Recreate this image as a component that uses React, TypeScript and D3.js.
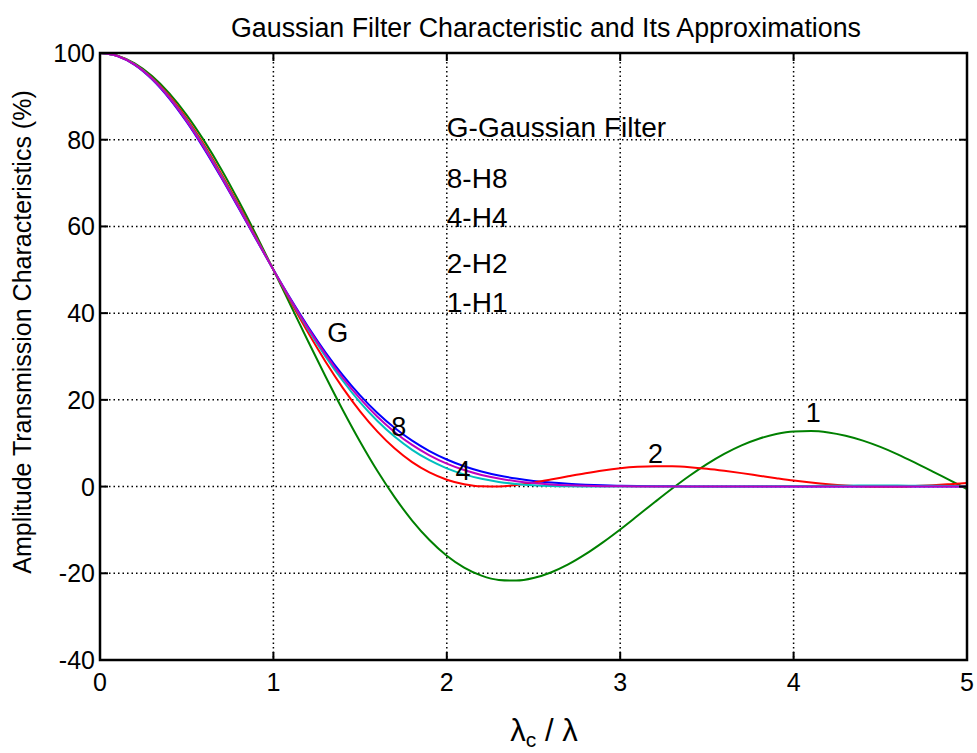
import React from "react";
import * as d3 from "d3";

const lambdaRatio = [
  0, 0.1, 0.2, 0.3, 0.4, 0.5, 0.6, 0.7, 0.8, 0.9, 1.0, 1.1, 1.2, 1.3, 1.4, 1.5, 1.6, 1.7, 1.8, 1.9,
  2.0, 2.1, 2.2, 2.3, 2.4, 2.5, 2.6, 2.7, 2.8, 2.9, 3.0, 3.1, 3.2, 3.3, 3.4, 3.5, 3.6, 3.7, 3.8, 3.9,
  4.0, 4.1, 4.2, 4.3, 4.4, 4.5, 4.6, 4.7, 4.8, 4.9, 5.0,
];

const gaussian = [
  100, 99.31, 97.27, 93.95, 89.5, 84.09, 77.92, 71.2, 64.17, 57.04, 50, 43.23, 36.86, 30.99, 25.7, 21.02,
  16.96, 13.49, 10.58, 8.19, 6.25, 4.7, 3.49, 2.56, 1.85, 1.31, 0.92, 0.64, 0.44, 0.29, 0.2, 0.13, 0.08,
  0.05, 0.03, 0.02, 0.01, 0, 0, 0, 0, 0, 0, 0, 0, 0, 0, 0, 0, 0, 0,
];

const h1 = [
  100, 99.4, 97.62, 94.7, 90.69, 85.69, 79.79, 73.15, 65.85, 58.08, 50, 41.76, 33.51, 25.43, 17.66, 10.34,
  3.58, -2.5, -7.83, -12.32, -15.95, -18.69, -20.54, -21.53, -21.69, -21.1, -19.82, -17.96, -15.6, -12.87,
  -9.89, -6.74, -3.56, -0.45, 2.5, 5.18, 7.54, 9.51, 11.04, 12.11, 12.71, 12.82, 12.49, 11.73, 10.6, 9.15,
  7.44, 5.53, 3.52, 1.47, -0.56,
];

const h2 = [
  100, 99.36, 97.44, 94.32, 90.09, 84.87, 78.82, 72.11, 64.94, 57.5, 50, 42.61, 35.51, 28.85, 22.77, 17.35,
  12.67, 8.76, 5.63, 3.26, 1.59, 0.55, 0.07, 0.03, 0.35, 0.91, 1.61, 2.36, 3.09, 3.73, 4.23, 4.56, 4.71,
  4.67, 4.47, 4.11, 3.64, 3.1, 2.52, 1.94, 1.39, 0.92, 0.53, 0.24, 0.07, 0.0, 0.03, 0.15, 0.33, 0.56, 0.81,
];

const h4 = [
  100, 99.33, 97.36, 94.14, 89.79, 84.47, 78.36, 71.64, 64.54, 57.26, 50, 42.95, 36.24, 30.04, 24.41, 19.42,
  15.11, 11.47, 8.48, 6.08, 4.21, 2.81, 1.79, 1.08, 0.61, 0.32, 0.15, 0.06, 0.02, 0, 0, 0, 0, 0, 0, 0.01,
  0.02, 0.04, 0.07, 0.1, 0.13, 0.16, 0.19, 0.21, 0.22, 0.22, 0.22, 0.2, 0.18, 0.16, 0.13,
];

const h8 = [
  100, 99.32, 97.31, 94.04, 89.65, 84.28, 78.13, 71.42, 64.35, 57.15, 50, 43.09, 36.56, 30.53, 25.09, 20.27,
  16.09, 12.55, 9.6, 7.2, 5.29, 3.81, 2.68, 1.84, 1.23, 0.8, 0.5, 0.31, 0.18, 0.1, 0.06, 0.03, 0.01, 0, 0,
  0, 0, 0, 0, 0, 0, 0, 0, 0, 0, 0, 0, 0, 0, 0, 0,
];

const seriesNames = ["G", "H1", "H2", "H4", "H8"];
const seriesValues = [gaussian, h1, h2, h4, h8];
const seriesColors = ["#0000ff", "#008000", "#ff0000", "#00bfbf", "#bf00bf"];

const xTicks = [0, 1, 2, 3, 4, 5];
const yTicks = [-40, -20, 0, 20, 40, 60, 80, 100];

const legendLines = ["G-Gaussian Filter", "8-H8", "4-H4", "2-H2", "1-H1"];
const legendY = [80.6, 68.9, 59.9, 49.3, 40.2];
const legendX = 2;

const curveLabels = ["G", "8", "4", "2", "1"];
const curveLabelX = [1.31, 1.68, 2.05, 3.16, 4.07];
const curveLabelY = [33.4, 11.6, 1.5, 5.4, 14.9];

const title = "Gaussian Filter Characteristic and Its Approximations";
const yLabel = "Amplitude Transmission Characteristics (%)";

export default function App() {
  const W = 977;
  const H = 753;
  const left = 100;
  const right = 967;
  const top = 53;
  const bottom = 660;
  const x = d3.scaleLinear().domain([0, 5]).range([left, right]);
  const y = d3.scaleLinear().domain([-40, 100]).range([bottom, top]);
  const line = d3
    .line<number>()
    .x((_, i) => x(lambdaRatio[i]))
    .y((d) => y(d))
    .curve(d3.curveMonotoneX);
  const font = "'Liberation Sans', Arial, Helvetica, sans-serif";
  const tickLen = 8;
  const tickFont = 25;

  return (
    <svg
      width={W}
      height={H}
      style={{ position: "absolute", left: 0, top: 0, background: "#fff" }}
      fontFamily={font}
    >
      <rect x={0} y={0} width={W} height={H} fill="#fff" />
      {xTicks.slice(1, -1).map((t) => (
        <line
          key={"gx" + t}
          x1={x(t)}
          x2={x(t)}
          y1={top}
          y2={bottom}
          stroke="#000"
          strokeWidth={1.5}
          strokeDasharray="1.5,3"
        />
      ))}
      {yTicks.slice(1, -1).map((t) => (
        <line
          key={"gy" + t}
          x1={left}
          x2={right}
          y1={y(t)}
          y2={y(t)}
          stroke="#000"
          strokeWidth={1.5}
          strokeDasharray="1.5,3"
        />
      ))}
      {seriesValues.map((vals, i) => (
        <path
          key={seriesNames[i]}
          d={line(vals) || ""}
          fill="none"
          stroke={seriesColors[i]}
          strokeWidth={2}
        />
      ))}
      {xTicks.map((t) => (
        <g key={"tx" + t}>
          <line x1={x(t)} x2={x(t)} y1={bottom} y2={bottom - tickLen} stroke="#000" strokeWidth={2} />
          <line x1={x(t)} x2={x(t)} y1={top} y2={top + tickLen} stroke="#000" strokeWidth={2} />
          <text x={x(t)} y={bottom + 31} textAnchor="middle" fontSize={tickFont} fill="#000">
            {t}
          </text>
        </g>
      ))}
      {yTicks.map((t) => (
        <g key={"ty" + t}>
          <line x1={left} x2={left + tickLen} y1={y(t)} y2={y(t)} stroke="#000" strokeWidth={2} />
          <line x1={right} x2={right - tickLen} y1={y(t)} y2={y(t)} stroke="#000" strokeWidth={2} />
          <text x={left - 5} y={y(t) + 9} textAnchor="end" fontSize={tickFont} fill="#000">
            {t}
          </text>
        </g>
      ))}
      <rect x={left} y={top} width={right - left} height={bottom - top} fill="none" stroke="#000" strokeWidth={2.5} />
      <text x={546} y={37} textAnchor="middle" fontSize={26.8} fill="#000">
        {title}
      </text>
      <text
        transform={`translate(31, 332) rotate(-90)`}
        textAnchor="middle"
        fontSize={25}
        fill="#000"
      >
        {yLabel}
      </text>
      <text x={544} y={741} textAnchor="middle" fontSize={31} fill="#000">
        <tspan>λ</tspan>
        <tspan fontSize={21} dy={6}>c</tspan>
        <tspan dy={-6}> / λ</tspan>
      </text>
      {legendLines.map((s, i) => (
        <text key={s} x={x(legendX)} y={y(legendY[i])} fontSize={28} fill="#000">
          {s}
        </text>
      ))}
      {curveLabels.map((s, i) => (
        <text key={"cl" + i} x={x(curveLabelX[i])} y={y(curveLabelY[i])} fontSize={27} fill="#000">
          {s}
        </text>
      ))}
    </svg>
  );
}
